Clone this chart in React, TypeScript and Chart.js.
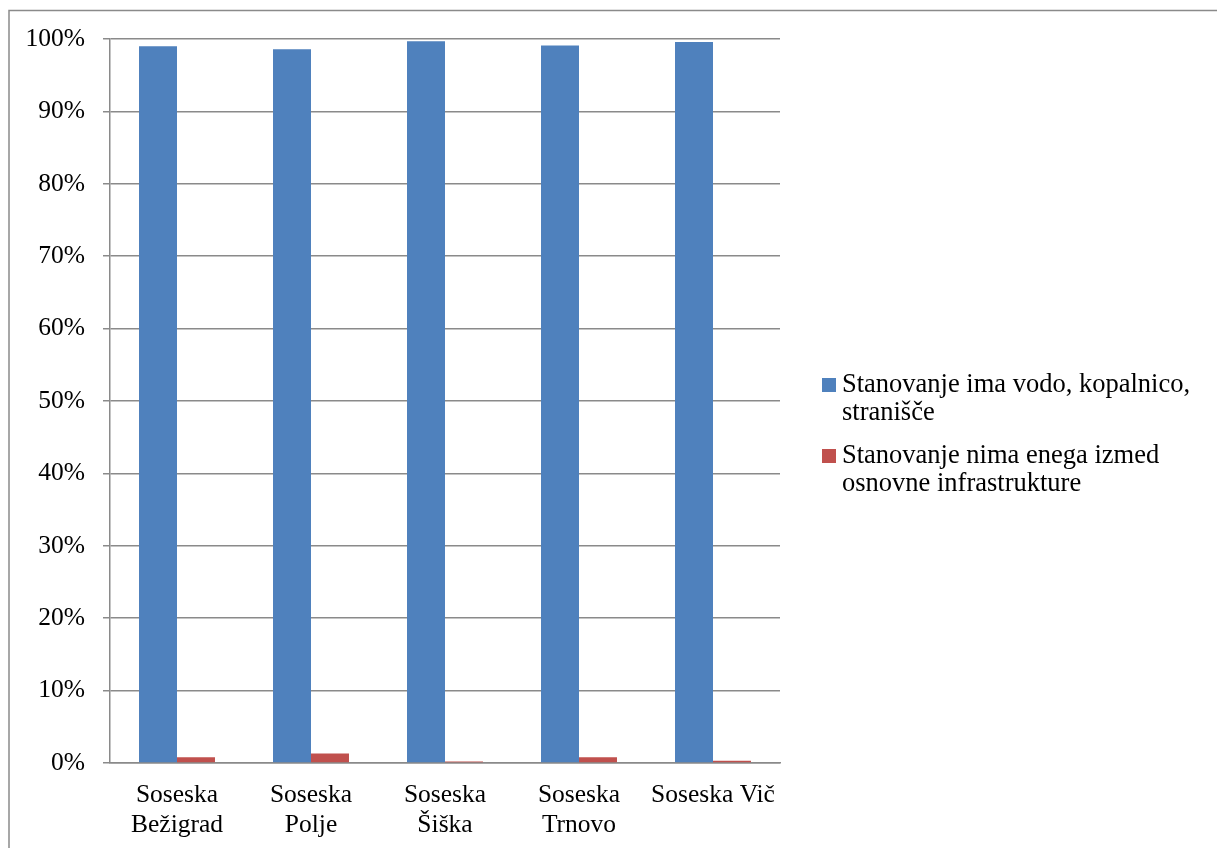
import React, { useEffect, useRef } from "react";
import { Chart, registerables } from "chart.js";

Chart.register(...registerables);

const categories: (string | string[])[] = [
  ["Soseska", "Bežigrad"],
  ["Soseska", "Polje"],
  ["Soseska", "Šiška"],
  ["Soseska", "Trnovo"],
  "Soseska Vič",
];
const seriesNames: string[][] = [
  ["Stanovanje ima vodo, kopalnico,", "stranišče"],
  ["Stanovanje nima enega izmed", "osnovne infrastrukture"],
];
const hasAll: number[] = [99.0, 98.6, 99.7, 99.1, 99.6];
const lacksOne: number[] = [0.8, 1.3, 0.2, 0.8, 0.3];
const colors: string[] = ["#4F81BD", "#C0504D"];

const FONT = "'Liberation Serif', 'Times New Roman', serif";

const framePlugin = {
  id: "frame",
  beforeDraw(chart: any) {
    const ctx = chart.ctx;
    ctx.save();
    ctx.strokeStyle = "#8a8a8a";
    ctx.lineWidth = 1.5;
    ctx.beginPath();
    ctx.moveTo(9, chart.height);
    ctx.lineTo(9, 10.5);
    ctx.lineTo(chart.width, 10.5);
    ctx.stroke();
    ctx.restore();
  },
};

const legendPlugin = {
  id: "customLegend",
  afterDraw(chart: any) {
    const ctx = chart.ctx;
    ctx.save();
    ctx.font = `26.5px ${FONT}`;
    ctx.textBaseline = "middle";
    ctx.textAlign = "left";
    const starts = [385, 456];
    seriesNames.forEach((lines, i) => {
      const y0 = starts[i];
      ctx.fillStyle = chart.data.datasets[i].backgroundColor;
      ctx.fillRect(822, y0 - 7, 14, 14);
      ctx.fillStyle = "#000";
      lines.forEach((t, j) => ctx.fillText(t, 842, y0 + j * 28));
    });
    ctx.restore();
  },
};

export default function App() {
  const ref = useRef<HTMLCanvasElement>(null);
  useEffect(() => {
    if (!ref.current) return;
    const chart = new Chart(ref.current, {
      type: "bar",
      data: {
        labels: categories,
        datasets: [
          { label: seriesNames[0].join(" "), data: hasAll, backgroundColor: colors[0] },
          { label: seriesNames[1].join(" "), data: lacksOne, backgroundColor: colors[1] },
        ],
      },
      options: {
        responsive: false,
        animation: false,
        layout: { padding: { left: 0, top: 39, right: 437, bottom: 0 } },
        datasets: { bar: { barPercentage: 1, categoryPercentage: 0.567 } },
        plugins: { legend: { display: false }, tooltip: { enabled: false } },
        scales: {
          x: {
            grid: { display: false },
            border: { display: true, color: "#8a8a8a", width: 1.5 },
            ticks: { color: "#000", font: { family: FONT, size: 25.5, lineHeight: 1.15 }, padding: 10, maxRotation: 0, autoSkip: false },
            afterFit: (s: any) => { s.height = 85; },
          },
          y: {
            min: 0,
            max: 100,
            grid: { color: "#8a8a8a", lineWidth: 1.5, drawTicks: true, tickLength: 7 },
            border: { display: true, color: "#8a8a8a", width: 1.5 },
            ticks: {
              stepSize: 10,
              color: "#000",
              font: { family: FONT, size: 25.5 },
              padding: 18,
              callback: (v: any) => v + "%",
            },
            afterFit: (s: any) => { s.width = 110; },
          },
        },
      },
      plugins: [framePlugin, legendPlugin],
    });
    return () => chart.destroy();
  }, []);
  return (
    <div style={{ position: "fixed", left: 0, top: 0, width: 1217, height: 848, background: "#fff" }}>
      <canvas ref={ref} width={1217} height={848} style={{ display: "block", width: 1217, height: 848 }} />
    </div>
  );
}
